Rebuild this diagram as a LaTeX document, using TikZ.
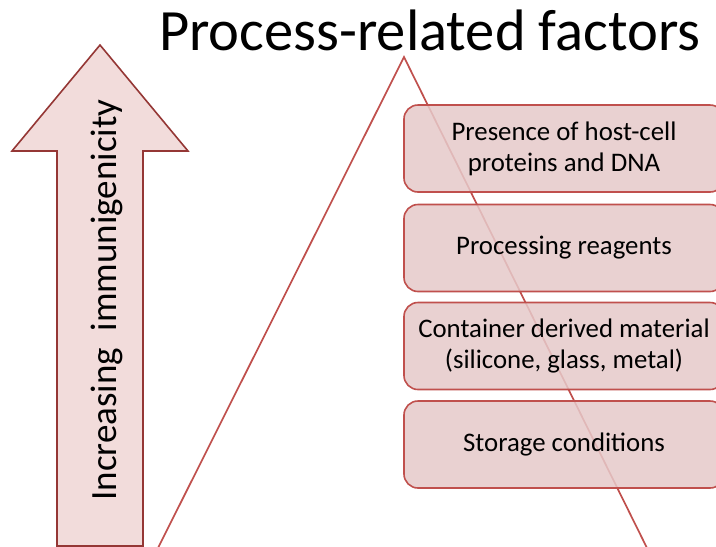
\documentclass[tikz,border=0pt]{standalone}
\usepackage{fontspec}
\setmainfont{Carlito}
\definecolor{boxfill}{HTML}{E6CACA}
\definecolor{boxline}{HTML}{C0504D}
\definecolor{arrowfill}{HTML}{F2DCDB}
\definecolor{arrowline}{HTML}{953735}
\tikzset{
  factorbox/.style={draw=boxline, line width=1.6pt, fill=boxfill, fill opacity=0.85, text opacity=1,
    rounded corners=14pt, minimum width=320pt, minimum height=87pt, align=center,
    font=\fontsize{26.8}{31}\selectfont, inner sep=0pt},
  triline/.style={draw=boxline, line width=1.7pt},
  bigarrow/.style={draw=arrowline, line width=1.6pt, fill=arrowfill},
}
\begin{document}
\begin{tikzpicture}[x=1pt,y=-1pt]
\useasboundingbox (0,0) rectangle (716,547);
\clip (0,0) rectangle (716,547);
\fill[white] (0,0) rectangle (716,547);
% big arrow
\draw[bigarrow] (57,546) -- (57,151) -- (12,151) -- (100,45) -- (188,151) -- (143,151) -- (143,546) -- cycle;
\node[rotate=90, anchor=base, font=\fontsize{37}{42}\selectfont, inner sep=0pt] (arrowtext) at (116,300) {Increasing\ \ immunigenicity};
% triangle
\coordinate (apex) at (404,57);
\coordinate (tl) at (157,550);
\coordinate (tr) at (648,550);
\draw[triline] (tl) -- (apex) -- (tr);
% title
\node[anchor=base west, font=\fontsize{58.5}{64}\selectfont, inner sep=0pt] (title) at (159,50) {Process-related factors};
% boxes
\node[factorbox] (b1) at (564,148.5) {Presence of host-cell\\proteins and DNA};
\node[factorbox] (b2) at (564,248) {Processing reagents};
\node[factorbox] (b3) at (564,346) {Container derived material\\(silicone, glass, metal)};
\node[factorbox] (b4) at (564,444.5) {Storage conditions};
\end{tikzpicture}
\end{document}
